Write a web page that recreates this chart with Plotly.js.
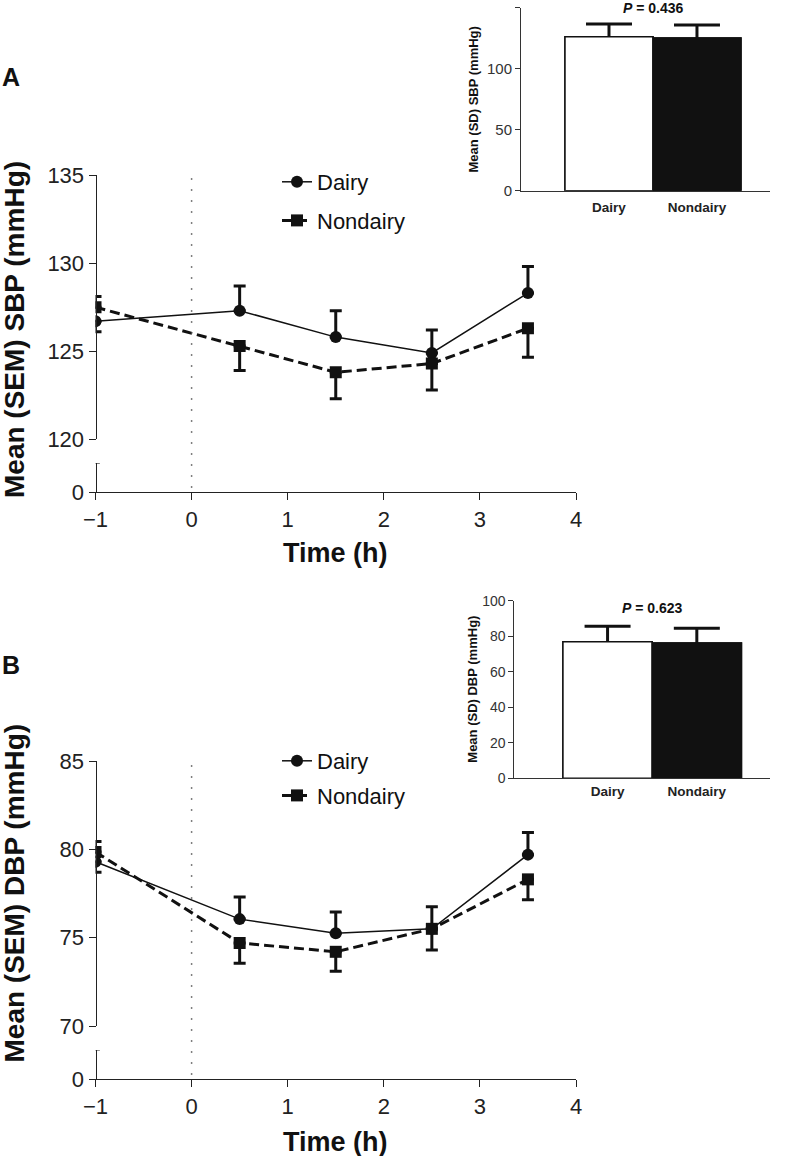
<!DOCTYPE html>
<html>
<head>
<meta charset="utf-8">
<script src="https://cdn.plot.ly/plotly-3.0.1.min.js"></script>
<style>
html,body{margin:0;padding:0;background:#fff;}
#chart{width:787px;height:1156px;}
</style>
</head>
<body>
<div id="chart"></div>
<script>
// ---------- data ----------
var times = [-1, 0.5, 1.5, 2.5, 3.5];
var xTicks = [-1, 0, 1, 2, 3, 4];

// Panel A: SBP, mean and SEM (one-sided bars as drawn)
var sbpDairy = [126.7, 127.3, 125.8, 124.9, 128.3];
var sbpDairyUp = [0, 1.4, 1.5, 1.3, 1.5];
var sbpDairyDown = [0.6, 0, 0, 0, 0];
var sbpNondairy = [127.5, 125.3, 123.8, 124.3, 126.3];
var sbpNondairyUp = [0.6, 0, 0, 0, 0];
var sbpNondairyDown = [0, 1.4, 1.5, 1.5, 1.65];
var sbpTicks = [120, 125, 130, 135];

// Panel B: DBP, mean and SEM
var dbpDairy = [79.3, 76.05, 75.25, 75.5, 79.7];
var dbpDairyUp = [0, 1.25, 1.2, 1.25, 1.25];
var dbpDairyDown = [0.6, 0, 0, 0, 0];
var dbpNondairy = [79.85, 74.7, 74.2, 75.5, 78.3];
var dbpNondairyUp = [0.6, 0, 0, 0, 0];
var dbpNondairyDown = [0, 1.15, 1.1, 1.2, 1.15];
var dbpTicks = [70, 75, 80, 85];

// Insets: overall mean (SD)
var groups = ['Dairy', 'Nondairy'];
var sbpMean = [126.2, 125.2];
var sbpSD = [10.4, 10.6];
var dbpMean = [76.9, 76.2];
var dbpSD = [8.7, 8.3];
var sbpBarTicks = [0, 50, 100, 150];
var dbpBarTicks = [0, 20, 40, 60, 80, 100];
var pSBP = '0.436';
var pDBP = '0.623';

// ---------- layout helpers ----------
var W = 787, H = 1156;
function px(x){ return x / W; }
function py(y){ return 1 - y / H; }
var FONT = 'Liberation Sans, Arial, sans-serif';
var INK = '#111';
var AX = '#222';

var mainX = [px(95.5), px(576)];
var aUpper = [py(439.3), py(175)];
var aLower = [py(492.3), py(463.3)];
var bUpper = [py(1026), py(761)];
var bLower = [py(1079.3), py(1050)];
var insetAX = [px(521), px(770)];
var insetAY = [py(190.7), py(7.7)];
var insetBX = [px(514.3), px(770)];
var insetBY = [py(778.3), py(600.7)];

function lineTrace(y, up, down, name, symbol, dash, width, xa, ya, legend, grp){
  return {
    type: 'scatter', mode: 'lines+markers', x: times, y: y, name: name,
    xaxis: xa, yaxis: ya, legend: legend, legendgroup: grp,
    line: {color: INK, width: width, dash: dash},
    marker: {symbol: symbol, size: 12, color: INK},
    error_y: {type: 'data', symmetric: false, array: up, arrayminus: down,
              color: INK, thickness: 3, width: 6},
    hoverinfo: 'x+y'
  };
}
// bar with SD whisker; the whisker's lower end is hidden by an identical covering bar
function barWithError(mean, sd, xa, ya){
  return {
    type: 'bar', x: groups, y: mean, xaxis: xa, yaxis: ya, width: 1,
    showlegend: false,
    marker: {color: ['#ffffff', '#111111'], line: {color: '#111', width: 1.5}},
    error_y: {type: 'data', symmetric: false, array: sd,
              arrayminus: mean.map(function(m){ return m / 2; }),
              color: INK, thickness: 3, width: 23}
  };
}
function barCover(mean, xa, ya){
  return {
    type: 'bar', x: groups, y: mean, xaxis: xa, yaxis: ya, width: 1,
    showlegend: false,
    marker: {color: ['#ffffff', '#111111'], line: {color: '#111', width: 1.5}}
  };
}

var data = [
  lineTrace(sbpDairy, sbpDairyUp, sbpDairyDown, 'Dairy', 'circle', 'solid', 1.5, 'x', 'y', 'legend', 'a1'),
  lineTrace(sbpNondairy, sbpNondairyUp, sbpNondairyDown, 'Nondairy', 'square', '10px,5px', 3, 'x', 'y', 'legend', 'a2'),
  barWithError(sbpMean, sbpSD, 'x2', 'y3'),
  barCover(sbpMean, 'x2', 'y3'),
  lineTrace(dbpDairy, dbpDairyUp, dbpDairyDown, 'Dairy', 'circle', 'solid', 1.5, 'x3', 'y4', 'legend2', 'b1'),
  lineTrace(dbpNondairy, dbpNondairyUp, dbpNondairyDown, 'Nondairy', 'square', '10px,5px', 3, 'x3', 'y4', 'legend2', 'b2'),
  barWithError(dbpMean, dbpSD, 'x4', 'y6'),
  barCover(dbpMean, 'x4', 'y6')
];

function mainXAxis(domain, anchor){
  return {domain: domain, anchor: anchor, range: [-1, 4], tickvals: xTicks,
    ticktext: xTicks.map(function(v){ return v < 0 ? '\u2212' + Math.abs(v) : String(v); }),
    ticks: 'outside', ticklen: 7, tickwidth: 1, tickcolor: AX,
    showline: true, linecolor: AX, linewidth: 1, showgrid: false, zeroline: false,
    tickfont: {family: FONT, size: 22, color: AX}, fixedrange: true};
}
function upperY(domain, range, ticks){
  return {domain: domain, anchor: 'free', position: mainX[0], range: range, tickvals: ticks,
    ticks: 'outside', ticklen: 7, tickwidth: 1, tickcolor: AX,
    showline: true, linecolor: AX, linewidth: 1, showgrid: false, zeroline: false,
    tickfont: {family: FONT, size: 22, color: AX}, fixedrange: true};
}
function lowerY(domain){
  return {domain: domain, anchor: 'free', position: mainX[0], range: [0, 1], tickvals: [0],
    ticks: 'outside', ticklen: 7, tickwidth: 1, tickcolor: AX,
    showline: true, linecolor: AX, linewidth: 1, showgrid: false, zeroline: false,
    tickfont: {family: FONT, size: 22, color: AX}, fixedrange: true};
}
function insetX(domain, anchor, range, standoff){
  return {domain: domain, anchor: anchor, type: 'category', range: range,
    ticks: '', ticklabelstandoff: standoff,
    showline: true, linecolor: '#333', linewidth: 1, showgrid: false, zeroline: false,
    tickfont: {family: FONT, size: 13.5, color: '#222', weight: 'bold'}, fixedrange: true};
}
function insetY(domain, anchor, range, ticks, size){
  return {domain: domain, anchor: anchor, range: range, tickvals: ticks,
    ticks: 'outside', ticklen: 5, tickwidth: 1, tickcolor: '#333',
    showline: true, linecolor: '#333', linewidth: 1, showgrid: false, zeroline: false,
    tickfont: {family: FONT, size: size, color: '#333'}, fixedrange: true};
}

function legendBox(yTop, gap){
  return {x: px(277), y: py(yTop), xanchor: 'left', yanchor: 'top',
    bgcolor: 'rgba(0,0,0,0)', borderwidth: 0, traceorder: 'grouped', tracegroupgap: gap,
    font: {family: FONT, size: 22, color: INK}, itemclick: false, itemdoubleclick: false};
}

function ann(text, x, y, size, angle){
  return {text: text, xref: 'paper', yref: 'paper', x: px(x), y: py(y),
    xanchor: 'center', yanchor: 'middle', showarrow: false, textangle: angle || 0,
    font: {family: FONT, size: size, color: INK}};
}

// break-marker caps at top of the lower y segments (derived from axis range)
function breakCap(xref, yref){
  var d = 0.045;
  return {type: 'line', xref: xref, yref: yref, x0: -1 - d, x1: -1 + d, y0: 1, y1: 1,
    line: {color: AX, width: 1}};
}
function zeroDots(xref, lowDom, upDom){
  return {type: 'line', xref: xref, yref: 'paper', x0: 0, x1: 0, y0: lowDom[0] + 0.004, y1: upDom[1],
    line: {color: '#555', width: 1.5, dash: '1.5px,9.5px'}};
}

var layout = {
  width: W, height: H, margin: {l: 0, r: 0, t: 0, b: 0},
  paper_bgcolor: '#fff', plot_bgcolor: 'rgba(0,0,0,0)',
  showlegend: true, bargap: 0, barmode: 'overlay',
  font: {family: FONT, color: INK},
  xaxis: mainXAxis(mainX, 'y2'),
  yaxis: upperY(aUpper, [120, 135], sbpTicks),
  yaxis2: lowerY(aLower),
  xaxis2: insetX(insetAX, 'y3', [-1.0, 1.83], 4),
  yaxis3: insetY(insetAY, 'x2', [0, 150], sbpBarTicks, 15),
  xaxis3: mainXAxis(mainX, 'y5'),
  yaxis4: upperY(bUpper, [70, 85], dbpTicks),
  yaxis5: lowerY(bLower),
  xaxis4: insetX(insetBX, 'y6', [-1.045, 1.82], 0),
  yaxis6: insetY(insetBY, 'x4', [0, 100], dbpBarTicks, 14),
  legend: legendBox(161, 7),
  legend2: legendBox(740, 3),
  shapes: [
    zeroDots('x', aLower, aUpper),
    zeroDots('x3', bLower, bUpper),
    breakCap('x', 'y2'),
    breakCap('x3', 'y5')
  ],
  annotations: [
    ann('<b>A</b>', 11, 77.5, 25),
    ann('<b>B</b>', 11, 665, 25),
    ann('<b>Mean (SEM) SBP (mmHg)</b>', 14, 330, 28, -90),
    ann('<b>Mean (SEM) DBP (mmHg)</b>', 14, 893.5, 28, -90),
    ann('<b>Time (h)</b>', 335.7, 553, 27),
    ann('<b>Time (h)</b>', 335.7, 1141.7, 27),
    ann('<b>Mean (SD) SBP (mmHg)</b>', 473, 99.5, 13, -90),
    ann('<b>Mean (SD) DBP (mmHg)</b>', 471.7, 689, 13, -90),
    ann('<b><i>P</i> = ' + pSBP + '</b>', 653, 8, 14),
    ann('<b><i>P</i> = ' + pDBP + '</b>', 652, 607.7, 14)
  ]
};

Plotly.newPlot('chart', data, layout, {displayModeBar: false, staticPlot: true});
</script>
</body>
</html>
